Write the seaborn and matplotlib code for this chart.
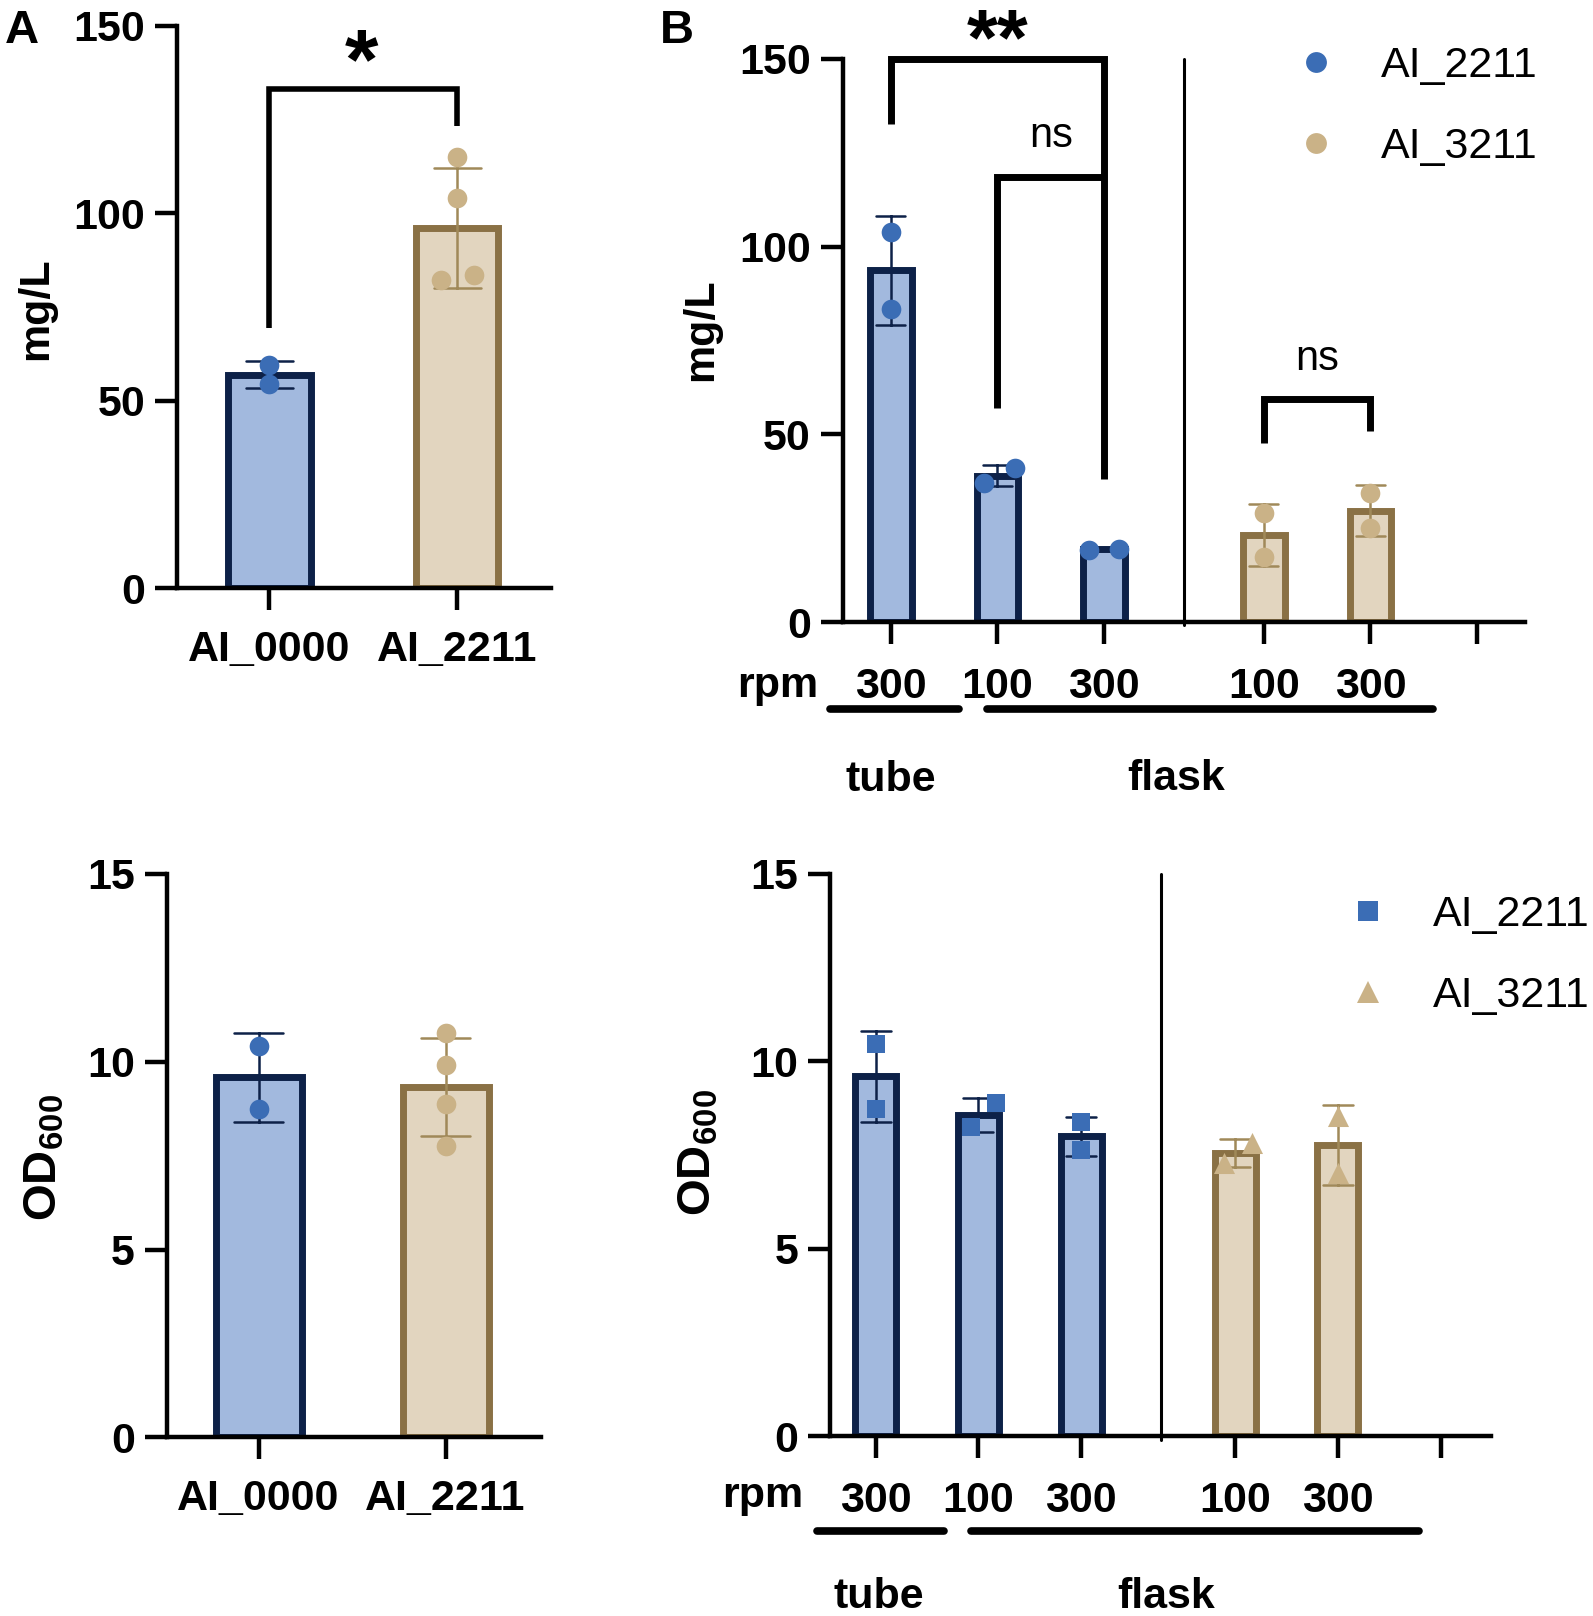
import matplotlib
matplotlib.use("Agg")
import matplotlib.pyplot as plt
import matplotlib.transforms as mtransforms
from matplotlib.lines import Line2D
import pandas as pd
import seaborn as sns

# ---- values (replicates per bar) ----
a_strains = ["AI_0000", "AI_2211"]
a_titer = [[59.5, 54.5], [115.0, 104.0, 82.2, 83.6]]
a_od = [[10.41, 8.75], [10.75, 9.92, 8.88, 7.75]]

b_strains = ["AI_2211", "AI_2211", "AI_2211", "AI_3211", "AI_3211"]
b_rpm = ["300", "100", "300", "100", "300"]
b_vessel = ["tube", "flask", "flask", "flask", "flask"]
b_titer = [[103.9, 83.4], [37.0, 41.1], [19.2, 19.6], [29.1, 17.3], [34.5, 25.0]]
b_od = [[10.46, 8.74], [8.25, 8.88], [8.37, 7.63], [7.29, 7.82], [8.53, 7.02]]

# ---- layout / style ----
a_pos = [0, 1]
a_groups = ["blue", "tan"]
b_pos = [0, 1, 2, 3.5, 4.5]
b_groups = {"AI_2211": "blue", "AI_3211": "tan"}

# horizontal nudges of overlapping dots (like Prism scatter)
a_titer_dx = [[0, 0], [0, 0, -0.088, 0.088]]
a_od_dx = [[0, 0], [0, 0, 0, 0]]
b_titer_dx = [[0, 0], [-0.125, 0.165], [-0.145, 0.145], [0, 0], [0, 0]]
b_od_dx = [[0, 0], [-0.076, 0.176], [0, 0], [-0.106, 0.16], [0, 0]]

FILL = {"blue": "#A2B9DE", "tan": "#E2D5BF"}
EDGE = {"blue": "#0D2148", "tan": "#8A7145"}
ERR = {"blue": "#0D2148", "tan": "#A08959"}
DOT = {"blue": "#3B6DB5", "tan": "#CAB287"}

sns.set_theme(style="ticks")
plt.rcParams["font.family"] = ["Liberation Sans", "DejaVu Sans"]
plt.rcParams["text.color"] = "black"
plt.rcParams["mathtext.fontset"] = "custom"
plt.rcParams["mathtext.bf"] = "Liberation Sans:bold"
plt.rcParams["mathtext.rm"] = "Liberation Sans"

FS = 31


def long_table(positions, values, groups, offsets):
    rows = []
    for p, vals, g, offs in zip(positions, values, groups, offsets):
        for v, d in zip(vals, offs):
            rows.append({"pos": p, "x": p + d, "value": v, "group": g})
    return pd.DataFrame(rows)


def draw_bars(ax, table, width, capsize, markers, sizes):
    for g in ["blue", "tan"]:
        sub = table[table["group"] == g]
        sns.barplot(data=sub, x="pos", y="value", native_scale=True, errorbar="sd",
                    width=width, capsize=capsize, color=FILL[g], saturation=1,
                    edgecolor=EDGE[g], linewidth=5,
                    err_kws={"color": ERR[g], "linewidth": 1.8}, ax=ax)
        sns.scatterplot(data=sub, x="x", y="value", color=DOT[g], marker=markers[g],
                        s=sizes[g], linewidth=0, legend=False, zorder=4, ax=ax)


def style_axes(ax, xlim, ylim, yticks, xticks, xlabels, xpad):
    ax.set_xlim(xlim)
    ax.set_ylim(ylim)
    ax.set_yticks(yticks)
    ax.set_xticks(xticks)
    ax.set_xticklabels(xlabels)
    sns.despine(ax=ax)
    for s in ["left", "bottom"]:
        ax.spines[s].set_linewidth(3.2)
        ax.spines[s].set_color("black")
    ax.tick_params(length=16, width=3.2, color="black", labelsize=FS, labelcolor="black")
    ax.tick_params(axis="y", pad=7)
    ax.tick_params(axis="x", pad=xpad)
    for lab in ax.get_xticklabels() + ax.get_yticklabels():
        lab.set_fontweight("bold")
    ax.set_xlabel("")
    ax.set_ylabel("")


def bracket(ax, xs, ys, lw):
    ax.plot(xs, ys, color="black", lw=lw, clip_on=False,
            solid_joinstyle="miter", solid_capstyle="butt", zorder=5)


def group_labels(ax, rpm_x, rpm_y, lines, names):
    trans = mtransforms.blended_transform_factory(ax.transData, ax.transAxes)
    ax.text(rpm_x, rpm_y, "rpm", transform=trans, ha="right", va="baseline",
            fontsize=FS, fontweight="bold")
    for x0, x1, y in lines:
        ax.plot([x0, x1], [y, y], transform=trans, color="black", lw=5.5,
                solid_capstyle="round", clip_on=False)
    for x, y, name in names:
        ax.text(x, y, name, transform=trans, ha="center", va="baseline",
                fontsize=FS, fontweight="bold")


fig = plt.figure(figsize=(15.93, 16.16), dpi=100)

ax_a1 = fig.add_axes([0.1112, 0.6359, 0.2347, 0.3481])
ax_b1 = fig.add_axes([0.5291, 0.6149, 0.4282, 0.3488])
ax_a2 = fig.add_axes([0.1048, 0.1105, 0.2348, 0.3488])
ax_b2 = fig.add_axes([0.5213, 0.1111, 0.4146, 0.3482])

b_group_list = [b_groups[s] for s in b_strains]
b_ticks = b_pos + [5.5]
b_ticklabels = b_rpm + [""]

dots = {"blue": "o", "tan": "o"}
dot_size = {"blue": 200, "tan": 200}

# ---- A, titer ----
draw_bars(ax_a1, long_table(a_pos, a_titer, a_groups, a_titer_dx), 0.44, 0.25, dots, dot_size)
style_axes(ax_a1, (-0.49, 1.5), (0, 150), [0, 50, 100, 150], a_pos, a_strains, 14)
bracket(ax_a1, [0, 0, 1, 1], [69.5, 133.2, 133.2, 123.4], 4)
ax_a1.text(0.494, 133.4, "*", ha="center", va="baseline", fontsize=62, fontweight="bold")

# ---- B, titer ----
draw_bars(ax_b1, long_table(b_pos, b_titer, b_group_list, b_titer_dx), 0.39, 0.27, dots, dot_size)
style_axes(ax_b1, (-0.45, 5.95), (0, 150), [0, 50, 100, 150], b_ticks, b_ticklabels, 16)
ax_b1.plot([2.755, 2.755], [-0.8, 150], color="black", lw=2.2, clip_on=False)
bracket(ax_b1, [0, 0, 2, 2], [132.7, 150, 150, 38.1], 5)
bracket(ax_b1, [1, 1, 2], [57, 118.4, 118.4], 5)
bracket(ax_b1, [3.5, 3.5, 4.5, 4.5], [47.7, 59.5, 59.5, 51], 5)
ax_b1.text(1.0, 148.4, "**", ha="center", va="baseline", fontsize=57, fontweight="bold")
ax_b1.text(1.5, 126.4, "ns", ha="center", va="baseline", fontsize=30)
ax_b1.text(4.0, 67.2, "ns", ha="center", va="baseline", fontsize=30)
group_labels(ax_b1, -0.68, -0.133,
             [(-0.57, 0.64, -0.154), (0.90, 5.09, -0.154)],
             [(0.0, -0.300, b_vessel[0]), (2.68, -0.297, b_vessel[1])])

# ---- A, OD ----
draw_bars(ax_a2, long_table(a_pos, a_od, a_groups, a_od_dx), 0.46, 0.26, dots, dot_size)
style_axes(ax_a2, (-0.49, 1.51), (0, 15), [0, 5, 10, 15], a_pos, a_strains, 14)

# ---- B, OD ----
draw_bars(ax_b2, long_table(b_pos, b_od, b_group_list, b_od_dx), 0.40, 0.29,
          {"blue": "s", "tan": "^"}, {"blue": 170, "tan": 230})
style_axes(ax_b2, (-0.44, 5.99), (0, 15), [0, 5, 10, 15], b_ticks, b_ticklabels, 16)
ax_b2.plot([2.78, 2.78], [-0.1, 15], color="black", lw=2.2, clip_on=False)
group_labels(ax_b2, -0.70, -0.126,
             [(-0.57, 0.67, -0.168), (0.93, 5.29, -0.168)],
             [(0.03, -0.304, b_vessel[0]), (2.83, -0.304, b_vessel[1])])

# panel letters and y labels
fig.text(0.003, 0.9735, "A", fontsize=34, fontweight="bold")
fig.text(0.4140, 0.9735, "B", fontsize=34, fontweight="bold")
fig.text(0.0226, 0.8088, "mg/L", rotation=90, ha="center", va="center", fontsize=FS, fontweight="bold")
fig.text(0.4399, 0.7958, "mg/L", rotation=90, ha="center", va="center", fontsize=FS, fontweight="bold")
fig.text(0.028, 0.2838, r"$\mathbf{OD_{600}}$", rotation=90, ha="center", va="center", fontsize=34)
fig.text(0.4385, 0.2869, r"$\mathbf{OD_{600}}$", rotation=90, ha="center", va="center", fontsize=34)

# legends
h_top = [Line2D([], [], ls="", marker="o", markersize=15, color=DOT["blue"], mew=0),
         Line2D([], [], ls="", marker="o", markersize=15, color=DOT["tan"], mew=0)]
fig.legend(h_top, ["AI_2211", "AI_3211"], loc="upper left", bbox_to_anchor=(0.8126, 0.9717),
           frameon=False, fontsize=FS, borderpad=0, borderaxespad=0, handlelength=1.0,
           handletextpad=1.0, labelspacing=0.96)
h_bot = [Line2D([], [], ls="", marker="s", markersize=14, color=DOT["blue"], mew=0),
         Line2D([], [], ls="", marker="^", markersize=16, color=DOT["tan"], mew=0)]
fig.legend(h_bot, ["AI_2211", "AI_3211"], loc="upper left", bbox_to_anchor=(0.8453, 0.4463),
           frameon=False, fontsize=FS, borderpad=0, borderaxespad=0, handlelength=1.0,
           handletextpad=1.0, labelspacing=0.96)

fig.savefig("out.png", dpi=100)
